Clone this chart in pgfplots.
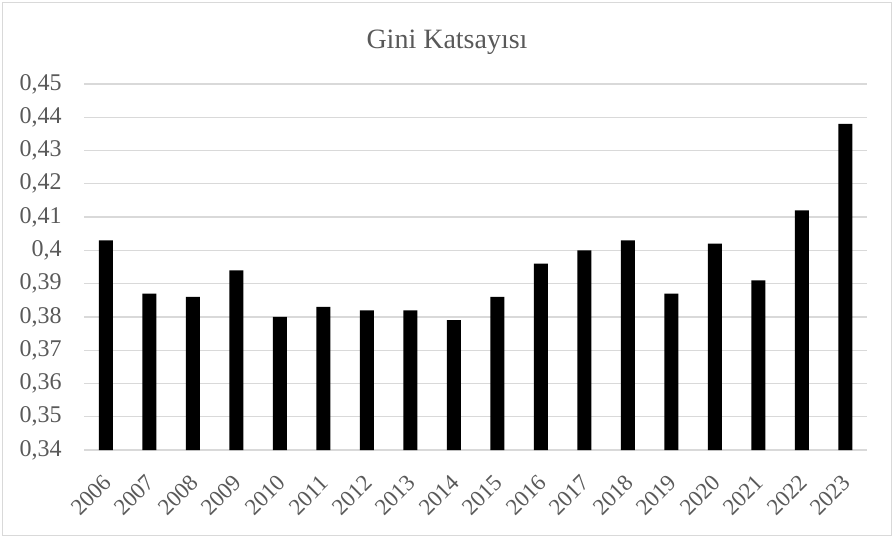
\documentclass[border=0pt]{standalone}
\usepackage{fontspec}
\setmainfont{Liberation Serif}
\usepackage{pgfplots}
\pgfplotsset{compat=1.18}
\definecolor{txt}{HTML}{595959}
\definecolor{grd}{HTML}{D9D9D9}
\begin{document}
\begin{tikzpicture}
\useasboundingbox (0,0) rectangle (447pt,269pt);
\draw[grd, line width=0.7pt] (1.2pt,1.2pt) rectangle (445.8pt,267.8pt);
\node[anchor=base, text=txt, font=\fontsize{14}{16}\selectfont, inner sep=0pt] at (223.5pt,245pt) {Gini Katsayısı};
\begin{axis}[
  at={(42pt,44pt)}, anchor=south west,
  scale only axis, width=391.5pt, height=183pt,
  xmin=-0.5, xmax=17.5, ymin=0.34, ymax=0.45,
  axis line style={draw=none},
  major tick length=0pt, tick style={draw=none},
  ymajorgrids, grid style={grd, line width=0.6pt},
  ytick={0.34,0.35,0.36,0.37,0.38,0.39,0.40,0.41,0.42,0.43,0.44,0.45},
  yticklabels={{0,34},{0,35},{0,36},{0,37},{0,38},{0,39},{0,4},{0,41},{0,42},{0,43},{0,44},{0,45}},
  xtick={0,1,2,3,4,5,6,7,8,9,10,11,12,13,14,15,16,17},
  xticklabels={2006,2007,2008,2009,2010,2011,2012,2013,2014,2015,2016,2017,2018,2019,2020,2021,2022,2023},
  yticklabel style={font=\fontsize{12}{14}\selectfont, text=txt, inner sep=0pt, xshift=-11pt, anchor=east},
  xticklabel style={font=\fontsize{11.5}{13}\selectfont, text=txt, inner sep=0pt, xshift=-2pt, yshift=-11.5pt, rotate=45, anchor=north east},
  clip=true,
]
\addplot[ybar, bar width=7pt, bar shift=0pt, fill=black, draw=none] coordinates {
(0,0.403) (1,0.387) (2,0.386) (3,0.394) (4,0.380) (5,0.383) (6,0.382) (7,0.382) (8,0.379)
(9,0.386) (10,0.396) (11,0.400) (12,0.403) (13,0.387) (14,0.402) (15,0.391) (16,0.412) (17,0.438)
};
\end{axis}
\end{tikzpicture}
\end{document}
